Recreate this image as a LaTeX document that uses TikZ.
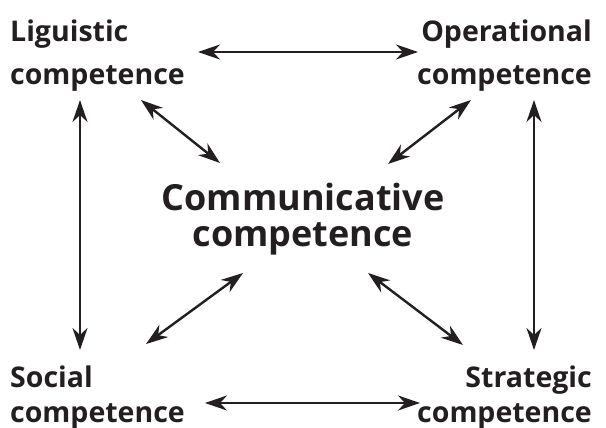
\documentclass[tikz,border=0pt]{standalone}
\usepackage{fontspec}
\setmainfont{Open Sans}
\usetikzlibrary{arrows.meta}
\definecolor{ink}{HTML}{231F20}
\begin{document}
\begin{tikzpicture}[x=1pt,y=-1pt,
  corner/.style={inner sep=0pt, text=ink, font=\bfseries\fontsize{28.5}{43}\selectfont},
  lower/.style={font=\bfseries\fontsize{28.5}{35}\selectfont},
  hub/.style={inner sep=0pt, text=ink, align=center, font=\bfseries\fontsize{36}{36}\selectfont},
  link/.style={draw=ink, line width=2.4pt,
    {Stealth[length=22pt,width=15pt,inset=7pt]}-{Stealth[length=22pt,width=15pt,inset=7pt]}}]
\useasboundingbox (0,0) rectangle (606,428);

% labels
\node[corner, align=left, anchor=north west] (ling) at (10,19.2) {Liguistic\\competence};
\node[corner, align=right, anchor=north east] (oper) at (592,19.2) {Operational\\competence};
\node[corner, lower, align=left, anchor=north west] (soc) at (10,365.2) {Social\\competence};
\node[corner, lower, align=right, anchor=north east] (strat) at (592,365.2) {Strategic\\competence};
\node[hub, anchor=north] (comm) at (303,182.5) {Communicative\\competence};

% arrow end points
\coordinate (top-l) at (198,52);   \coordinate (top-r) at (418,52);
\coordinate (bot-l) at (205,403);  \coordinate (bot-r) at (420,403);
\coordinate (lft-t) at (80,100);   \coordinate (lft-b) at (80,350);
\coordinate (rgt-t) at (534,100);  \coordinate (rgt-b) at (534,350);
\coordinate (dtl-o) at (141,100);  \coordinate (dtl-i) at (220,163);
\coordinate (dtr-o) at (471,100);  \coordinate (dtr-i) at (388,164);
\coordinate (dbl-o) at (146,344);  \coordinate (dbl-i) at (243,273);
\coordinate (dbr-o) at (463,345);  \coordinate (dbr-i) at (368,273);

% connectors
\draw[link] (top-l) -- (top-r);
\draw[link] (bot-l) -- (bot-r);
\draw[link] (lft-t) -- (lft-b);
\draw[link] (rgt-t) -- (rgt-b);
\draw[link] (dtl-o) -- (dtl-i);
\draw[link] (dtr-o) -- (dtr-i);
\draw[link] (dbl-o) -- (dbl-i);
\draw[link] (dbr-o) -- (dbr-i);
\end{tikzpicture}
\end{document}
